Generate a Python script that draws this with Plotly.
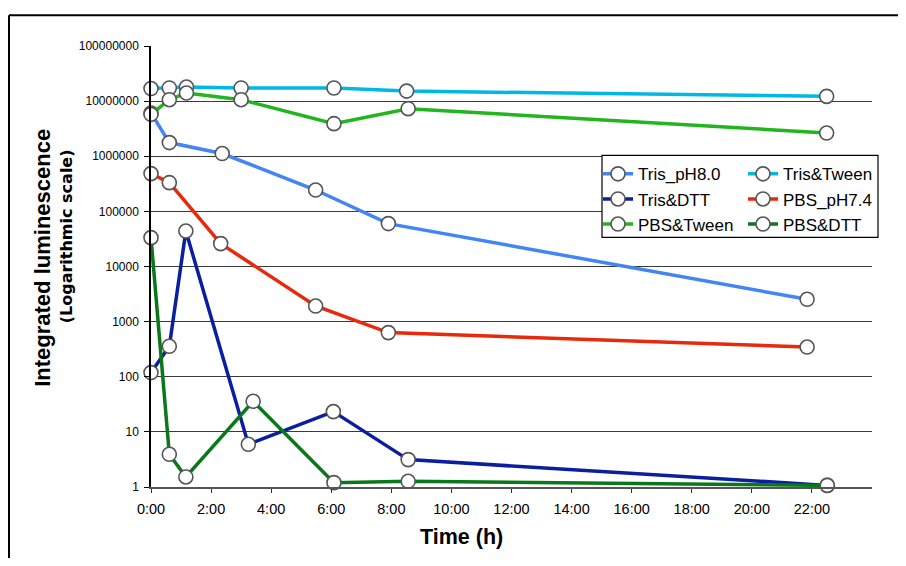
import plotly.graph_objects as go

# ---- data (time in hours, integrated luminescence) ----
series_names = ["Tris_pH8.0", "Tris&Tween", "Tris&DTT", "PBS_pH7.4", "PBS&Tween", "PBS&DTT"]

tris_ph8_t = [0, 0.61, 2.37, 5.48, 7.90, 21.84]
tris_ph8_v = [6.1e6, 1.77e6, 1.12e6, 2.44e5, 6.0e4, 2.54e3]

tris_tween_t = [0, 0.61, 1.18, 3.0, 6.09, 8.51, 22.49]
tris_tween_v = [1.69e7, 1.73e7, 1.8e7, 1.73e7, 1.73e7, 1.52e7, 1.22e7]

tris_dtt_t = [0, 0.61, 1.16, 3.24, 6.07, 8.56, 22.51]
tris_dtt_v = [119, 357, 4.4e4, 5.95, 23.3, 3.14, 1.07]

pbs_ph74_t = [0, 0.61, 2.32, 5.48, 7.90, 21.84]
pbs_ph74_v = [4.84e5, 3.32e5, 2.6e4, 1.92e3, 632, 346]

pbs_tween_t = [0, 0.61, 1.18, 3.0, 6.09, 8.56, 22.49]
pbs_tween_v = [5.76e6, 1.06e7, 1.40e7, 1.06e7, 3.9e6, 7.3e6, 2.64e6]

pbs_dtt_t = [0, 0.61, 1.16, 3.40, 6.09, 8.56, 22.51]
pbs_dtt_v = [3.34e4, 3.92, 1.52, 35.9, 1.2, 1.27, 1.07]

x_tick_hours = [0, 2, 4, 6, 8, 10, 12, 14, 16, 18, 20, 22]
x_tick_labels = ["0:00", "2:00", "4:00", "6:00", "8:00", "10:00", "12:00",
                 "14:00", "16:00", "18:00", "20:00", "22:00"]
y_tick_vals = [1, 10, 100, 1000, 10000, 100000, 1000000, 10000000, 100000000]
y_tick_labels = ["1", "10", "100", "1000", "10000", "100000", "1000000",
                 "10000000", "100000000"]

colors = ["#4285F4", "#00B8E6", "#0A1E9E", "#E8290B", "#22B51E", "#0A781A"]
legend_ids = ["legend", "legend2", "legend", "legend2", "legend", "legend2"]

all_t = [tris_ph8_t, tris_tween_t, tris_dtt_t, pbs_ph74_t, pbs_tween_t, pbs_dtt_t]
all_v = [tris_ph8_v, tris_tween_v, tris_dtt_v, pbs_ph74_v, pbs_tween_v, pbs_dtt_v]

FONT = "Liberation Sans, Arial, sans-serif"

fig = go.Figure()
for name, t, v, c, lg in zip(series_names, all_t, all_v, colors, legend_ids):
    fig.add_trace(go.Scatter(
        x=t, y=v, name=name, mode="lines+markers",
        line=dict(color=c, width=3.5),
        marker=dict(symbol="circle", size=14, color="white",
                    line=dict(color="#555555", width=1.6)),
        cliponaxis=False, legend=lg,
    ))

# page has an 8px body margin on every side; figure is placed at (8, 8)
OFF = 8
FW, FH = 906 - 2 * OFF, 566 - 2 * OFF
# plot area in page pixels: x 151..872, y 45.7..486.7
L, R, T, B = 151, 872, 45.7, 486.7
W, H = R - L, B - T

def px(x):
    return (x - L) / W

def py(y):
    return (B - y) / H

fig.update_layout(
    width=FW, height=FH,
    margin=dict(l=L - OFF, r=FW - (R - OFF), t=T - OFF, b=FH - (B - OFF), autoexpand=False),
    paper_bgcolor="white", plot_bgcolor="white",
    font=dict(family=FONT, color="black"),
    showlegend=True,
    legend=dict(x=px(598), y=py(156), xanchor="left", yanchor="top",
                bgcolor="rgba(0,0,0,0)", borderwidth=0,
                font=dict(size=17, family=FONT), orientation="v"),
    legend2=dict(x=px(743), y=py(156), xanchor="left", yanchor="top",
                 bgcolor="rgba(0,0,0,0)", borderwidth=0,
                 font=dict(size=17, family=FONT), orientation="v"),
    xaxis=dict(range=[0, 24], tickvals=x_tick_hours, ticktext=x_tick_labels,
               showgrid=False, zeroline=False, showline=True,
               linecolor="#555555", linewidth=1.5,
               ticks="outside", ticklen=4, tickcolor="#333333", tickwidth=1,
               tickfont=dict(size=14.5, family=FONT), ticklabelstandoff=4),
    yaxis=dict(type="log", range=[0, 8], tickvals=y_tick_vals, ticktext=y_tick_labels,
               showgrid=True, gridcolor="#3a3a3a", gridwidth=1.2,
               zeroline=False, showline=True, linecolor="black", linewidth=1.5,
               ticks="outside", ticklen=5, tickcolor="black", tickwidth=1,
               tickfont=dict(size=12, family=FONT), ticklabelstandoff=3),
    shapes=[
        # legend box
        dict(type="rect", xref="paper", yref="paper",
             x0=px(602), x1=px(878), y0=py(237), y1=py(155),
             fillcolor="white", line=dict(color="black", width=1.2), layer="above"),
        # outer chart border: left and top edges only
        dict(type="line", xref="paper", yref="paper",
             x0=px(9), x1=px(9), y0=py(566), y1=py(15),
             line=dict(color="black", width=2), layer="below"),
        dict(type="line", xref="paper", yref="paper",
             x0=px(9), x1=px(906), y0=py(15), y1=py(15),
             line=dict(color="black", width=2), layer="below"),
    ],
    annotations=[
        dict(text="<b>Time (h)</b>", xref="paper", yref="paper",
             x=px(461), y=py(537), xanchor="center", yanchor="middle",
             showarrow=False, font=dict(size=21.5, family=FONT)),
        dict(text="<b>Integrated luminescence</b>", xref="paper", yref="paper",
             x=px(43), y=py(257.5), xanchor="center", yanchor="middle", textangle=-90,
             showarrow=False, font=dict(size=22, family=FONT)),
        dict(text="<b>(Logarithmic scale)</b>", xref="paper", yref="paper",
             x=px(66), y=py(236), xanchor="center", yanchor="middle", textangle=-90,
             showarrow=False, font=dict(size=16, family="DejaVu Sans, sans-serif")),
    ],
)

fig.write_html("out.html")
